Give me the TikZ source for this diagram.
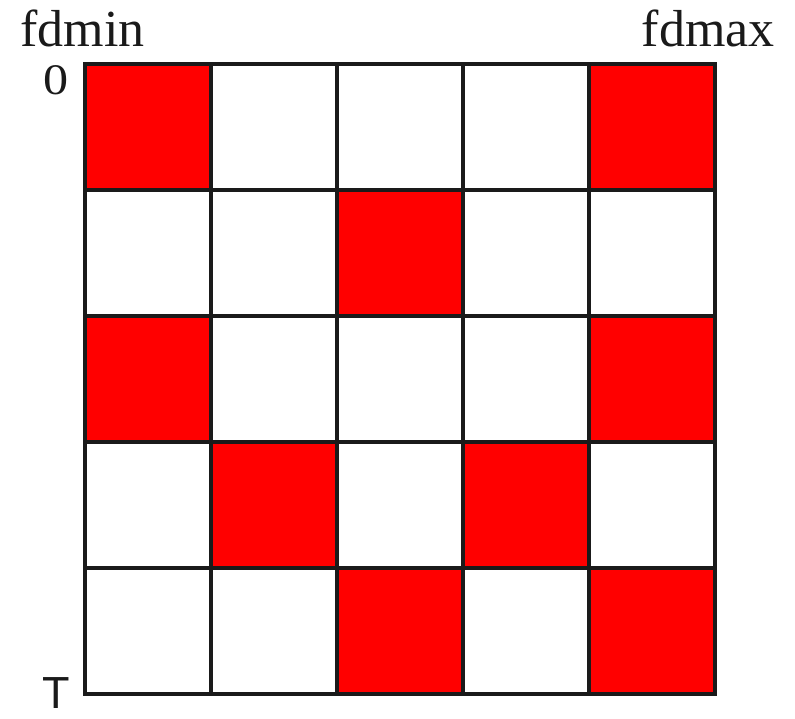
\documentclass[tikz,border=0pt]{standalone}
\usepackage{fontspec}
\setmainfont{Liberation Serif}
\setsansfont{Liberation Sans}
\usetikzlibrary{positioning}
\definecolor{Ink}{HTML}{1A1A1A}
\definecolor{Hot}{HTML}{FF0000}
\tikzset{
    gridline/.style={draw=Ink, line width=2.6pt, line cap=rect},
    hotcell/.style={fill=Hot},
    axislabel/.style={inner sep=0pt, text=Ink, font=\fontsize{37}{40}\selectfont},
}

\begin{document}
\begin{tikzpicture}
    \useasboundingbox (0,0) rectangle (19.875,17.975);
    % Zellen (Spalte/Zeile, Zeile 0 oben)
    \foreach \c/\r in {0/0, 4/0, 2/1, 0/2, 4/2, 1/3, 3/3, 2/4, 4/4} {
        \fill[hotcell] (2.125+3.15*\c, 16.375-3.15*\r) rectangle ++(3.15,-3.15);
    }
    % Gitter
    \foreach \i in {0,...,5} {
        \draw[gridline] (2.125+3.15*\i, 0.625) -- (2.125+3.15*\i, 16.375);
        \draw[gridline] (2.125, 0.625+3.15*\i) -- (17.875, 0.625+3.15*\i);
    }

    % Beschriftung
    \node[axislabel, anchor=base west] (fdmin) at (0.5, 16.8) {fdmin};
    \node[axislabel, anchor=base east] (fdmax) at (19.375, 16.8) {fdmax};
    \node[axislabel, anchor=base, xscale=1.15, font=\fontsize{31}{34}\selectfont] (zero) at (1.4, 15.6) {0};
    \node[axislabel, anchor=base, font=\sffamily\fontsize{32}{34}\selectfont] (tend) at (1.4, 0.25) {T};
\end{tikzpicture}
\end{document}
